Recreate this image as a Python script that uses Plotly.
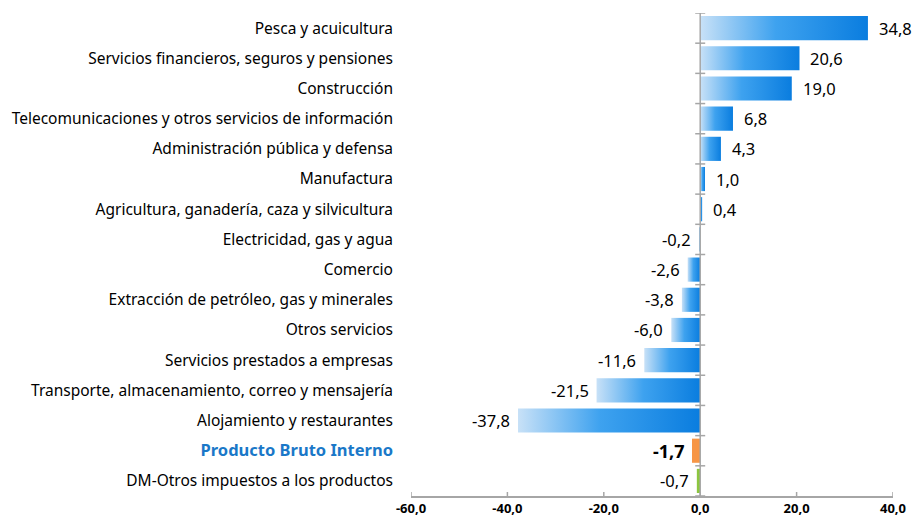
import plotly.graph_objects as go

categorias = [
    "Pesca y acuicultura",
    "Servicios financieros, seguros y pensiones",
    "Construcción",
    "Telecomunicaciones y otros servicios de información",
    "Administración pública y defensa",
    "Manufactura",
    "Agricultura, ganadería, caza y silvicultura",
    "Electricidad, gas y agua",
    "Comercio",
    "Extracción de petróleo, gas y minerales",
    "Otros servicios",
    "Servicios prestados a empresas",
    "Transporte, almacenamiento, correo y mensajería",
    "Alojamiento y restaurantes",
    "Producto Bruto Interno",
    "DM-Otros impuestos a los productos",
]
valores = [34.8, 20.6, 19.0, 6.8, 4.3, 1.0, 0.4, -0.2, -2.6, -3.8, -6.0,
           -11.6, -21.5, -37.8, -1.7, -0.7]
ticks_x = [-60, -40, -20, 0, 20, 40]

AZUL = [[0, "#c8e1f7"], [0.45, "#3ea2ef"], [1, "#0a7ddf"]]
NARANJA = "#f79646"
VERDE = "#8cc63f"
GRIS = "#a6a6a6"
FUENTE = "Noto Sans"
H = 0.4

fig = go.Figure()

for i, (cat, v) in enumerate(zip(categorias, valores)):
    xs = [0, v, v, 0, 0]
    ys = [i - H, i - H, i + H, i + H, i - H]
    tr = dict(x=xs, y=ys, mode="lines", line=dict(width=0), fill="toself",
              hoverinfo="skip", showlegend=False)
    if cat == "Producto Bruto Interno":
        tr["fillcolor"] = NARANJA
    elif cat.startswith("DM"):
        tr["fillcolor"] = VERDE
    else:
        tr["fillgradient"] = dict(type="horizontal", colorscale=AZUL)
    fig.add_trace(go.Scatter(**tr))

    txt = f"{v:.1f}".replace(".", ",")
    es_pbi = cat == "Producto Bruto Interno"
    fig.add_annotation(
        x=v, y=i, text=f"<b>{txt}</b>" if es_pbi else txt,
        showarrow=False, xanchor="left" if v > 0 else "right",
        xshift=9 if v > 0 else -6,
        font=dict(family=FUENTE, size=18 if es_pbi else 16.5, color="black"),
    )

ticktext_y = []
for cat in categorias:
    if cat == "Producto Bruto Interno":
        ticktext_y.append(
            "<b><span style='color:#1a78c8;font-size:16.5px'>" + cat + "</span></b>")
    else:
        ticktext_y.append(cat)

n = len(categorias)
rango_y = [n - 0.5, -0.5]

# eje vertical en x=0 con marcas cruzadas entre categorias
fig.add_shape(type="line", xref="x", yref="y", x0=0, x1=0,
              y0=-0.5, y1=n - 0.5, line=dict(color=GRIS, width=1.5))
for k in range(n + 1):
    fig.add_shape(type="line", xref="x", yref="y", xsizemode="pixel",
                  xanchor=0, x0=-5, x1=5, y0=k - 0.5, y1=k - 0.5,
                  line=dict(color=GRIS, width=1.5))
# marcas cruzadas del eje x
for t in ticks_x:
    fig.add_shape(type="line", xref="x", yref="y", ysizemode="pixel",
                  yanchor=n - 0.5, x0=t, x1=t, y0=-4, y1=4,
                  line=dict(color=GRIS, width=1.5))

fig.update_layout(
    width=917, height=520,
    margin=dict(l=411, r=24, t=13, b=24, autoexpand=False),
    plot_bgcolor="white", paper_bgcolor="white",
    font=dict(family=FUENTE, color="black"),
    xaxis=dict(range=[ticks_x[0], ticks_x[-1]], tickvals=ticks_x,
               ticktext=[f"{t:.1f}".replace(".", ",") for t in ticks_x],
               tickfont=dict(size=13, weight="bold", color="black"),
               showline=True, linecolor=GRIS, linewidth=1.5,
               ticks="", showgrid=False, zeroline=False, automargin=False),
    yaxis=dict(range=rango_y, tickvals=list(range(n)), ticktext=ticktext_y,
               tickfont=dict(size=15.5, color="black"), ticklabelstandoff=17,
               showgrid=False, zeroline=False, showline=False, ticks="",
               automargin=False),
)

fig.write_html("out.html", config={"displayModeBar": False},
               post_script="document.body.style.margin='0';")
